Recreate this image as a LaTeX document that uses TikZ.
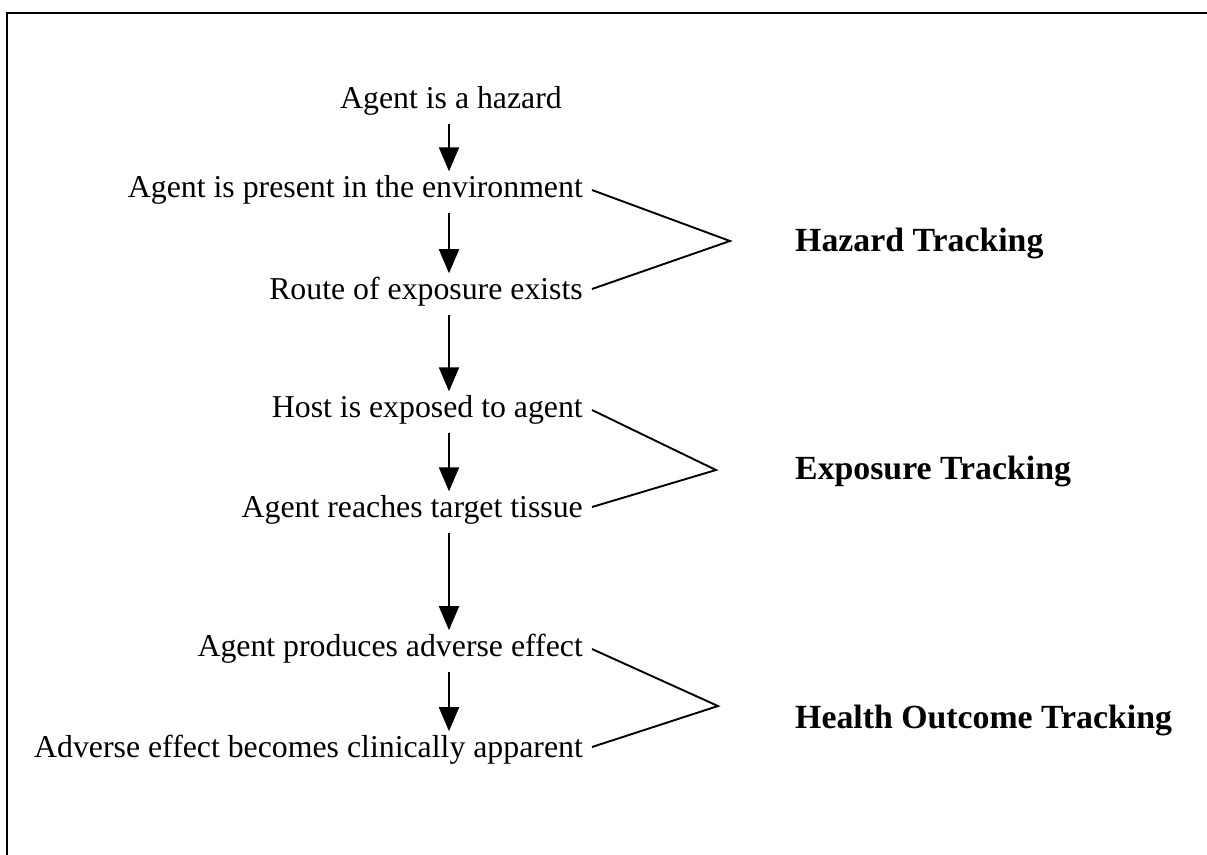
\documentclass[tikz,border=0pt]{standalone}
\usepackage{fontspec}
\setmainfont{Liberation Serif}
\usetikzlibrary{arrows.meta}
\begin{document}
\begin{tikzpicture}[x=1pt,y=-1pt,
  txt/.style={inner sep=0pt,font=\fontsize{31.8}{38}\selectfont},
  rtxt/.style={txt,anchor=east},
  lbl/.style={inner sep=0pt,anchor=west,font=\fontsize{33.8}{40}\selectfont\bfseries},
  arr/.style={line width=1.9pt,-{Triangle[width=20pt,length=24pt]}},
  brk/.style={line width=1.9pt},
  frame/.style={line width=2.2pt}]
\useasboundingbox (0,0) rectangle (1207,854);
\draw[frame] (7,870) -- (7,13) -- (1220,13);
\coordinate (ax) at (449,0);
\node[txt] (t1) at (451,101) {Agent is a hazard};
\node[rtxt] (t2) at (583,190) {Agent is present in the environment};
\node[rtxt] (t3) at (583,292) {Route of exposure exists};
\node[rtxt] (t4) at (583,410) {Host is exposed to agent};
\node[rtxt] (t5) at (583,510) {Agent reaches target tissue};
\node[rtxt] (t6) at (583,649) {Agent produces adverse effect};
\node[rtxt] (t7) at (583,750) {Adverse effect becomes clinically apparent};
\foreach \a/\b in {t1/t2,t2/t3,t3/t4,t4/t5,t5/t6,t6/t7}
  \draw[arr] ([yshift=-8pt]\a.south -| ax) -- ([yshift=4pt]\b.north -| ax);
\coordinate (p1) at (730,241);
\coordinate (p2) at (716,470);
\coordinate (p3) at (718,706);
\draw[brk] ([xshift=9pt]t2.east) -- (p1) -- ([xshift=9pt,yshift=3pt]t3.east);
\draw[brk] ([xshift=9pt]t4.east) -- (p2) -- ([xshift=9pt,yshift=3pt]t5.east);
\draw[brk] ([xshift=9pt]t6.east) -- (p3) -- ([xshift=9pt,yshift=3pt]t7.east);
\node[lbl] (l1) at (795,243) {Hazard Tracking};
\node[lbl] (l2) at (795,471) {Exposure Tracking};
\node[lbl] (l3) at (795,720) {Health Outcome Tracking};
\end{tikzpicture}
\end{document}
